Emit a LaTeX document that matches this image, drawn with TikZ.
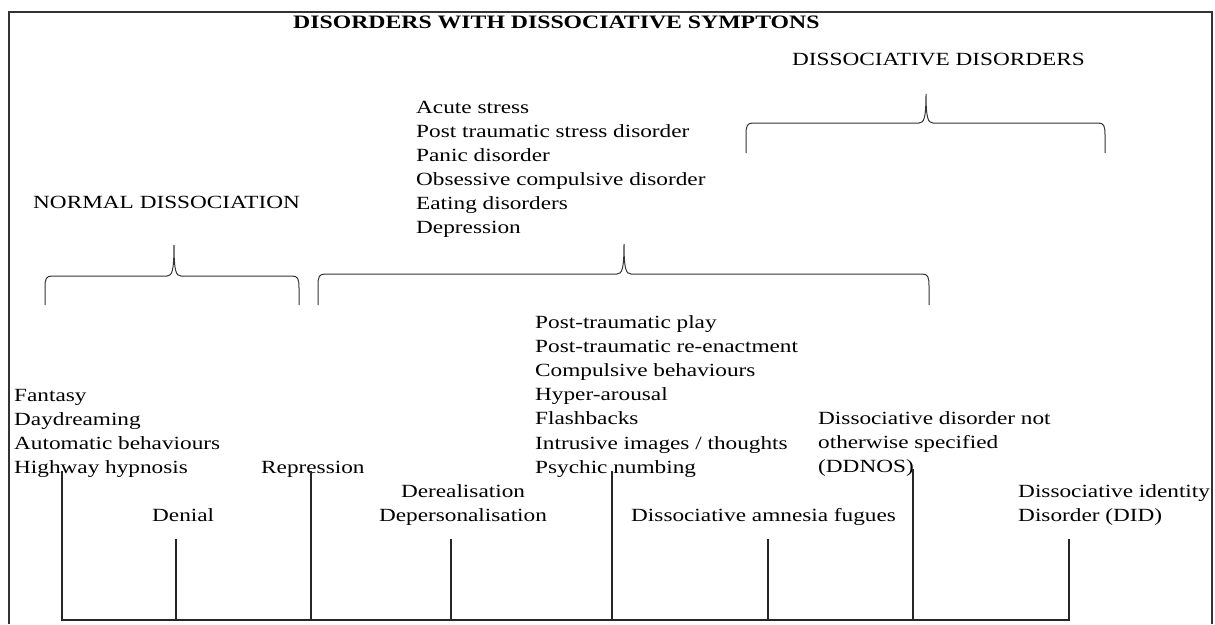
\documentclass[tikz,border=0pt]{standalone}
\usepackage{fontspec}
\setmainfont{Liberation Serif}[FakeStretch=1.25]
\newcommand{\stackl}[1]{\begin{tabular}[t]{@{}l@{}}#1\end{tabular}}
\newcommand{\stackc}[1]{\begin{tabular}[t]{@{}c@{}}#1\end{tabular}}
\begin{document}
\begin{tikzpicture}[x=1pt,y=-1pt,
  txt/.style={anchor=base west, inner sep=0pt, text=black,
    font=\fontsize{18.6}{24.1}\selectfont},
  ctxt/.style={txt, anchor=base},
  ttl/.style={txt, font=\fontsize{19}{24}\selectfont\bfseries},
  link/.style={line width=1.3pt, draw=black!85},
  bracket/.style={line width=1pt, draw=black!80},
  frame/.style={line width=1.3pt, draw=black!80}]
\useasboundingbox (0,0) rectangle (1215,624);

% outer frame (open at the lower edge of the page)
\draw[frame] (9,624) -- (9,12) -- (1212,12) -- (1212,624);

% headings
\node[ttl] (title) at (293,28) {DISORDERS WITH DISSOCIATIVE SYMPTONS};
\node[txt] (dissdis) at (792,65) {DISSOCIATIVE DISORDERS};
\node[txt] (normal) at (33,208) {NORMAL DISSOCIATION};

% symptom lists
\node[txt] (anxiety) at (416,113) {\stackl{Acute stress\\Post traumatic stress disorder\\Panic disorder\\Obsessive compulsive disorder\\Eating disorders\\Depression}};
\node[txt] (ptsd) at (535,328.5) {\stackl{Post-traumatic play\\Post-traumatic re-enactment\\Compulsive behaviours\\Hyper-arousal\\Flashbacks\\Intrusive images / thoughts\\Psychic numbing}};
\node[txt] (fantasy) at (14,401) {\stackl{Fantasy\\Daydreaming\\Automatic behaviours\\Highway hypnosis}};
\node[txt] (repression) at (261,473) {Repression};
\node[ctxt] (dereal) at (463,497) {\stackc{Derealisation\\Depersonalisation}};
\node[txt] (denial) at (152,521) {Denial};
\node[txt] (amnesia) at (631,521) {Dissociative amnesia fugues};
\node[txt] (ddnos) at (818,424.5) {\stackl{Dissociative disorder not\\otherwise specified\\(DDNOS)}};
\node[txt] (did) at (1018,497) {\stackl{Dissociative identity\\Disorder (DID)}};

% braces
\draw[bracket] (746,153) -- (746,135) .. controls (746,126) and (747,123) .. (753,123)
  -- (919,123) .. controls (924,123) and (926,118) .. (926,94)
  .. controls (926,118) and (928,123) .. (933,123) -- (1098,123)
  .. controls (1104,123) and (1105,126) .. (1105,135) -- (1105,153);
\draw[bracket] (45,305) -- (45,288) .. controls (45,279) and (46,276) .. (52,276)
  -- (167,276) .. controls (172,276) and (174,271) .. (174,245)
  .. controls (174,271) and (176,276) .. (181,276) -- (292,276)
  .. controls (298,276) and (299,279) .. (299,288) -- (299,305);
\draw[bracket] (318,305) -- (318,286) .. controls (318,277) and (319,274) .. (325,274)
  -- (617,274) .. controls (622,274) and (624,269) .. (624,244)
  .. controls (624,269) and (626,274) .. (631,274) -- (922,274)
  .. controls (928,274) and (929,277) .. (929,286) -- (929,305);

% connector ends
\coordinate (t1) at (62,471);   \coordinate (b1) at (62,620);
\coordinate (t2) at (176,539);  \coordinate (b2) at (176,620);
\coordinate (t3) at (311,471);  \coordinate (b3) at (311,620);
\coordinate (t4) at (451,539);  \coordinate (b4) at (451,620);
\coordinate (t5) at (612,471);  \coordinate (b5) at (612,620);
\coordinate (t6) at (768,539);  \coordinate (b6) at (768,620);
\coordinate (t7) at (913,469);  \coordinate (b7) at (913,620);
\coordinate (t8) at (1069,539); \coordinate (b8) at (1069,620);

% connectors to the common baseline
\foreach \i in {1,...,8} \draw[link] (t\i) -- (b\i);
\draw[link, line cap=rect] (b1) -- (b8);
\end{tikzpicture}
\end{document}
